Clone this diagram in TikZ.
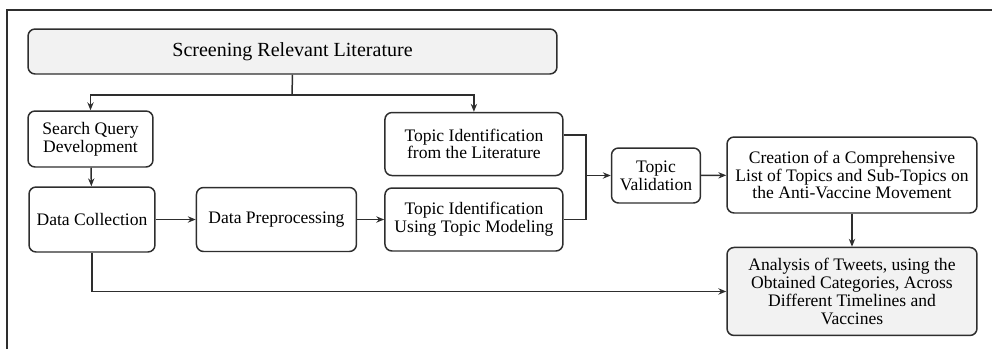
\documentclass[tikz,border=0pt]{standalone}
\usepackage{fontspec}
\setmainfont{Liberation Serif}
\usetikzlibrary{positioning, arrows.meta}
\definecolor{edgegray}{HTML}{2E2E2E}
\definecolor{boxfill}{HTML}{F2F2F2}
\tikzset{
    >={Stealth[length=4.5pt, width=3.6pt]}, % small filled arrow heads
    x=0.02cm, y=-0.02cm, % one unit is one pixel of the sketch
    box/.style={draw=edgegray, line width=0.85pt, rounded corners=4pt, align=center,
        font=\fontsize{10}{10.1}\selectfont, inner sep=2pt}, % every process box
    shaded/.style={box, fill=boxfill}, % first and last step
    flow/.style={->, draw=edgegray, line width=0.85pt}, % connectors
}
\begin{document}
\begin{tikzpicture}
            \useasboundingbox (0,0) rectangle (992,349);
            \draw[edgegray, line width=0.6pt] (7,349) -- (7,10) -- (992,10);

            \node[shaded, minimum width=10.58cm, minimum height=0.9cm, font=\fontsize{11.4}{12}\selectfont] (screen) at (292.5,51.5) {Screening Relevant Literature};
            \node[box, minimum width=2.5cm, minimum height=1.12cm] (query) at (90.5,139) {Search Query\\Development};
            \node[box, minimum width=2.52cm, minimum height=1.3cm] (collect) at (92,219.5) {Data Collection};
            \node[box, minimum width=3.2cm, minimum height=1.28cm, right=0.8cm of collect] (prep) {Data Preprocessing};
            \node[box, minimum width=3.56cm, minimum height=1.26cm, right=0.54cm of prep] (model) {Topic Identification\\Using Topic Modeling};
            \node[box, minimum width=3.56cm, minimum height=1.26cm, above=0.22cm of model] (lit) {Topic Identification\\from the Literature};
            \node[box, minimum width=1.78cm, minimum height=1.1cm] (valid) at (656,175.5) {Topic\\Validation};
            \node[box, minimum width=5cm, minimum height=1.52cm] (list) at (852,175) {Creation of a Comprehensive\\List of Topics and Sub-Topics on\\the Anti-Vaccine Movement};
            \node[shaded, minimum width=5cm, minimum height=1.76cm, below=0.66cm of list] (tweets) {Analysis of Tweets, using the\\Obtained Categories, Across\\Different Timelines and\\Vaccines};

            \coordinate (split) at (292,95);
            \coordinate (join) at (586,175.5);

            \draw[edgegray, line width=0.85pt] (screen.south) -- (split);
            \draw[flow] (split) -| (query.north);
            \draw[flow] (split) -| (lit.north);
            \draw[flow] (query) -- (collect);
            \draw[flow] (collect) -- (prep);
            \draw[flow] (prep) -- (model);
            \draw[edgegray, line width=0.85pt] ([yshift=0.18cm]lit.east) -| (join);
            \draw[edgegray, line width=0.85pt] (model.east) -| (join);
            \draw[flow] (join) -- (valid);
            \draw[flow] (valid) -- (list);
            \draw[flow] (list) -- (tweets);
            \draw[flow] (collect.south) |- (tweets.west);
        \end{tikzpicture}
\end{document}
